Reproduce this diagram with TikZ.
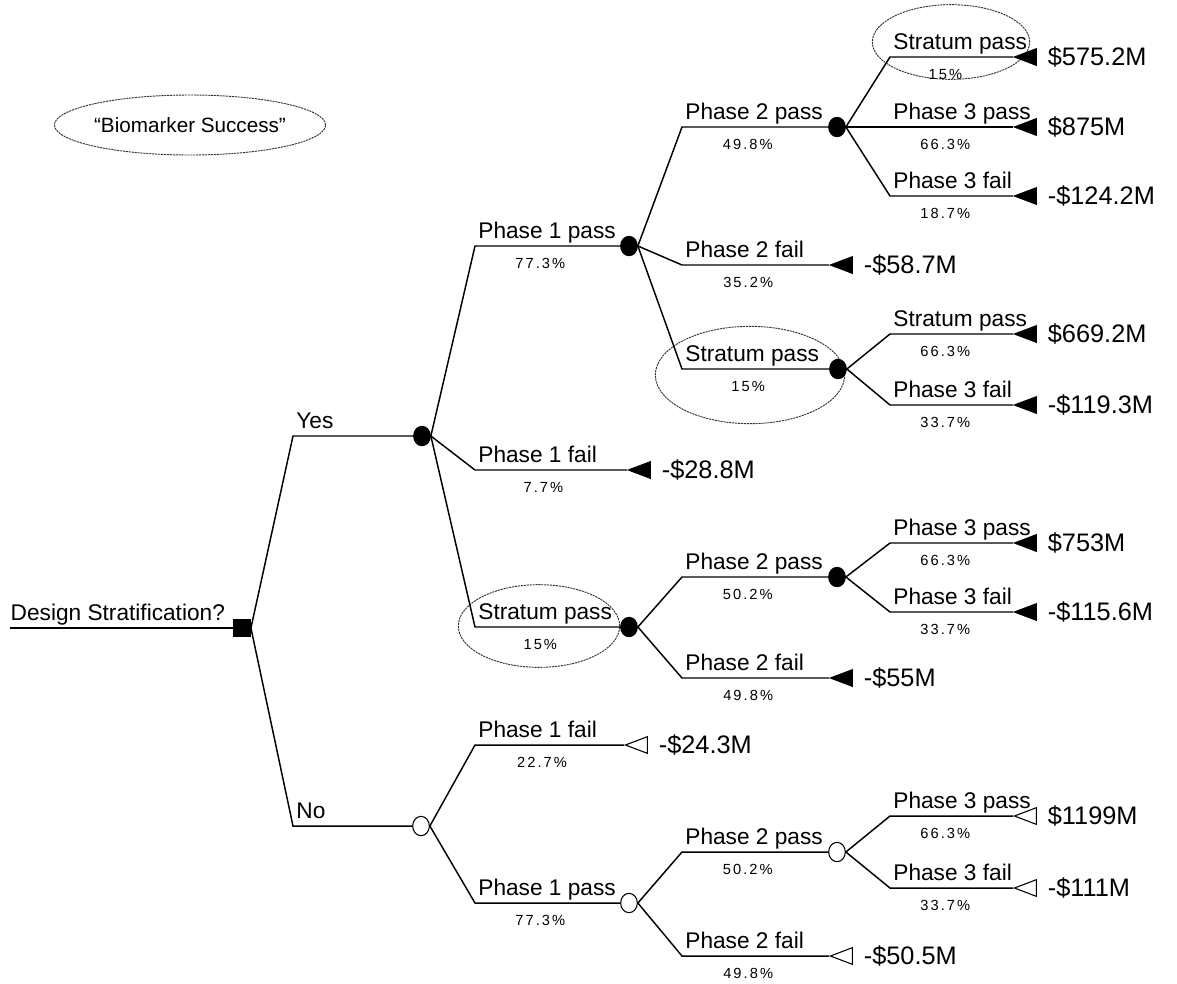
\documentclass[tikz,border=0pt]{standalone}
\usepackage{fontspec}
\setmainfont{Liberation Sans}
\newfontfamily\pctfamily[LetterSpace=14]{Liberation Sans}
\usetikzlibrary{shapes.geometric,positioning}

\newcommand\lblfont{\fontsize{17pt}{20pt}\selectfont}
\newcommand\pctfont{\pctfamily\fontsize{11pt}{13pt}\selectfont}
\newcommand\payfont{\fontsize{19pt}{22pt}\selectfont}

\tikzset{
    branch/.style={line width=1.1pt},
    decision/.style={rectangle,fill=black,inner sep=0pt,minimum width=13pt,minimum height=13.5pt},
    chance/.style={ellipse,draw,fill=black,line width=0.8pt,inner sep=0pt,minimum width=12.5pt,minimum height=14.5pt},
    open chance/.style={chance,fill=white},
    payoff/.style={isosceles triangle,isosceles triangle stretches,shape border rotate=180,
        anchor=apex,fill=black,draw,line width=0.8pt,inner sep=0pt,minimum width=12.5pt,minimum height=16.5pt},
    open payoff/.style={payoff,fill=white},
    amount/.style={inner sep=0pt,font=\payfont},
    lbl/.style={pos=0,anchor=base west,inner sep=0pt,xshift=2pt,yshift=6pt,font=\lblfont},
    pct/.style={pos=0.45,anchor=north,inner sep=0pt,yshift=-9pt,font=\pctfont},
    hilite/.style={ellipse,draw=black!80,line width=0.7pt,dash pattern=on 1.6pt off 0.6pt,inner sep=0pt}
}

\begin{document}
\begin{tikzpicture}[x=0.75pt,y=-0.75pt]
    \useasboundingbox (0,0) rectangle (1177,983);

    % highlights
    \node[hilite,minimum width=166pt,minimum height=45pt,font=\fontsize{15.5pt}{18pt}\selectfont] (bio) at (190,125) {``Biomarker Success''};
    \node[hilite,minimum width=118pt,minimum height=56pt] (h1) at (951,42) {};
    \node[hilite,minimum width=142pt,minimum height=73pt] (h2) at (750,375) {};
    \node[hilite,minimum width=121pt,minimum height=62pt] (h3) at (539,626) {};

    % decision and chance nodes
    \coordinate (r0) at (10,628);
    \node[decision] (d) at (242,628) {};
    \node[chance] (n1) at (422,436) {};
    \node[open chance] (n2) at (421,826) {};
    \node[chance] (n11) at (629,246) {};
    \node[chance] (n13) at (629,627) {};
    \node[chance] (n111) at (837,127) {};
    \node[chance] (n113) at (838,369) {};
    \node[chance] (n131) at (837,577) {};
    \node[open chance] (n22) at (629,903) {};
    \node[open chance] (n221) at (837,852) {};

    % end nodes
    \node[payoff] (t12) at (627,470) {};
    \node[payoff] (t112) at (829,265) {};
    \node[payoff] (t1111) at (1013,57) {};
    \node[payoff] (t1112) at (1013,127) {};
    \node[payoff] (t1113) at (1013,196) {};
    \node[payoff] (t1131) at (1013,334) {};
    \node[payoff] (t1132) at (1013,405) {};
    \node[payoff] (t132) at (829,678) {};
    \node[payoff] (t1311) at (1013,543) {};
    \node[payoff] (t1312) at (1013,612) {};
    \node[open payoff] (t21) at (624,745) {};
    \node[open payoff] (t222) at (829,956) {};
    \node[open payoff] (t2211) at (1013,816) {};
    \node[open payoff] (t2212) at (1013,888) {};

    \node[amount,right=8pt of t12] (v12) {-\$28.8M};
    \node[amount,right=8pt of t112] (v112) {-\$58.7M};
    \node[amount,right=8pt of t1111] (v1111) {\$575.2M};
    \node[amount,right=8pt of t1112] (v1112) {\$875M};
    \node[amount,right=8pt of t1113] (v1113) {-\$124.2M};
    \node[amount,right=8pt of t1131] (v1131) {\$669.2M};
    \node[amount,right=8pt of t1132] (v1132) {-\$119.3M};
    \node[amount,right=8pt of t132] (v132) {-\$55M};
    \node[amount,right=8pt of t1311] (v1311) {\$753M};
    \node[amount,right=8pt of t1312] (v1312) {-\$115.6M};
    \node[amount,right=8pt of t21] (v21) {-\$24.3M};
    \node[amount,right=8pt of t222] (v222) {-\$50.5M};
    \node[amount,right=8pt of t2211] (v2211) {\$1199M};
    \node[amount,right=8pt of t2212] (v2212) {-\$111M};

    % corners
    \coordinate (cy) at (293,436);
    \coordinate (cn) at (293,826);
    \coordinate (c11) at (475,246);
    \coordinate (c12) at (475,470);
    \coordinate (c13) at (475,627);
    \coordinate (c111) at (682,127);
    \coordinate (c112) at (682,265);
    \coordinate (c113) at (682,369);
    \coordinate (c1111) at (890,57);
    \coordinate (c1112) at (890,127);
    \coordinate (c1113) at (890,196);
    \coordinate (c1131) at (890,334);
    \coordinate (c1132) at (890,405);
    \coordinate (c131) at (682,577);
    \coordinate (c132) at (682,678);
    \coordinate (c1311) at (890,543);
    \coordinate (c1312) at (890,612);
    \coordinate (c21) at (475,745);
    \coordinate (c22) at (475,903);
    \coordinate (c221) at (682,852);
    \coordinate (c222) at (682,956);
    \coordinate (c2211) at (890,816);
    \coordinate (c2212) at (890,888);

    % branches
    \draw[branch] (r0) -- node[lbl,xshift=-2pt]{Design Stratification?} (d.west);
    \draw[branch] (d.east) -- (cy) -- node[lbl]{Yes} (n1.west);
    \draw[branch] (d.east) -- (cn) -- node[lbl]{No} (n2.west);

    \draw[branch] (n1.east) -- (c11) -- node[lbl]{Phase 1 pass} node[pct]{77.3\%} (n11.west);
    \draw[branch] (n1.east) -- (c12) -- node[lbl]{Phase 1 fail} node[pct]{7.7\%} (t12.apex);
    \draw[branch] (n1.east) -- (c13) -- node[lbl]{Stratum pass} node[pct]{15\%} (n13.west);

    \draw[branch] (n11.east) -- (c111) -- node[lbl]{Phase 2 pass} node[pct]{49.8\%} (n111.west);
    \draw[branch] (n11.east) -- (c112) -- node[lbl]{Phase 2 fail} node[pct]{35.2\%} (t112.apex);
    \draw[branch] (n11.east) -- (c113) -- node[lbl]{Stratum pass} node[pct]{15\%} (n113.west);

    \draw[branch] (n111.east) -- (c1111) -- node[lbl]{Stratum pass} node[pct]{15\%} (t1111.apex);
    \draw[branch] (n111.east) -- (c1112) -- node[lbl]{Phase 3 pass} node[pct]{66.3\%} (t1112.apex);
    \draw[branch] (n111.east) -- (c1113) -- node[lbl]{Phase 3 fail} node[pct]{18.7\%} (t1113.apex);

    \draw[branch] (n113.east) -- (c1131) -- node[lbl]{Stratum pass} node[pct]{66.3\%} (t1131.apex);
    \draw[branch] (n113.east) -- (c1132) -- node[lbl]{Phase 3 fail} node[pct]{33.7\%} (t1132.apex);

    \draw[branch] (n13.east) -- (c131) -- node[lbl]{Phase 2 pass} node[pct]{50.2\%} (n131.west);
    \draw[branch] (n13.east) -- (c132) -- node[lbl]{Phase 2 fail} node[pct]{49.8\%} (t132.apex);

    \draw[branch] (n131.east) -- (c1311) -- node[lbl]{Phase 3 pass} node[pct]{66.3\%} (t1311.apex);
    \draw[branch] (n131.east) -- (c1312) -- node[lbl]{Phase 3 fail} node[pct]{33.7\%} (t1312.apex);

    \draw[branch] (n2.east) -- (c21) -- node[lbl]{Phase 1 fail} node[pct]{22.7\%} (t21.apex);
    \draw[branch] (n2.east) -- (c22) -- node[lbl]{Phase 1 pass} node[pct]{77.3\%} (n22.west);

    \draw[branch] (n22.east) -- (c221) -- node[lbl]{Phase 2 pass} node[pct]{50.2\%} (n221.west);
    \draw[branch] (n22.east) -- (c222) -- node[lbl]{Phase 2 fail} node[pct]{49.8\%} (t222.apex);

    \draw[branch] (n221.east) -- (c2211) -- node[lbl]{Phase 3 pass} node[pct]{66.3\%} (t2211.apex);
    \draw[branch] (n221.east) -- (c2212) -- node[lbl]{Phase 3 fail} node[pct]{33.7\%} (t2212.apex);
\end{tikzpicture}
\end{document}
